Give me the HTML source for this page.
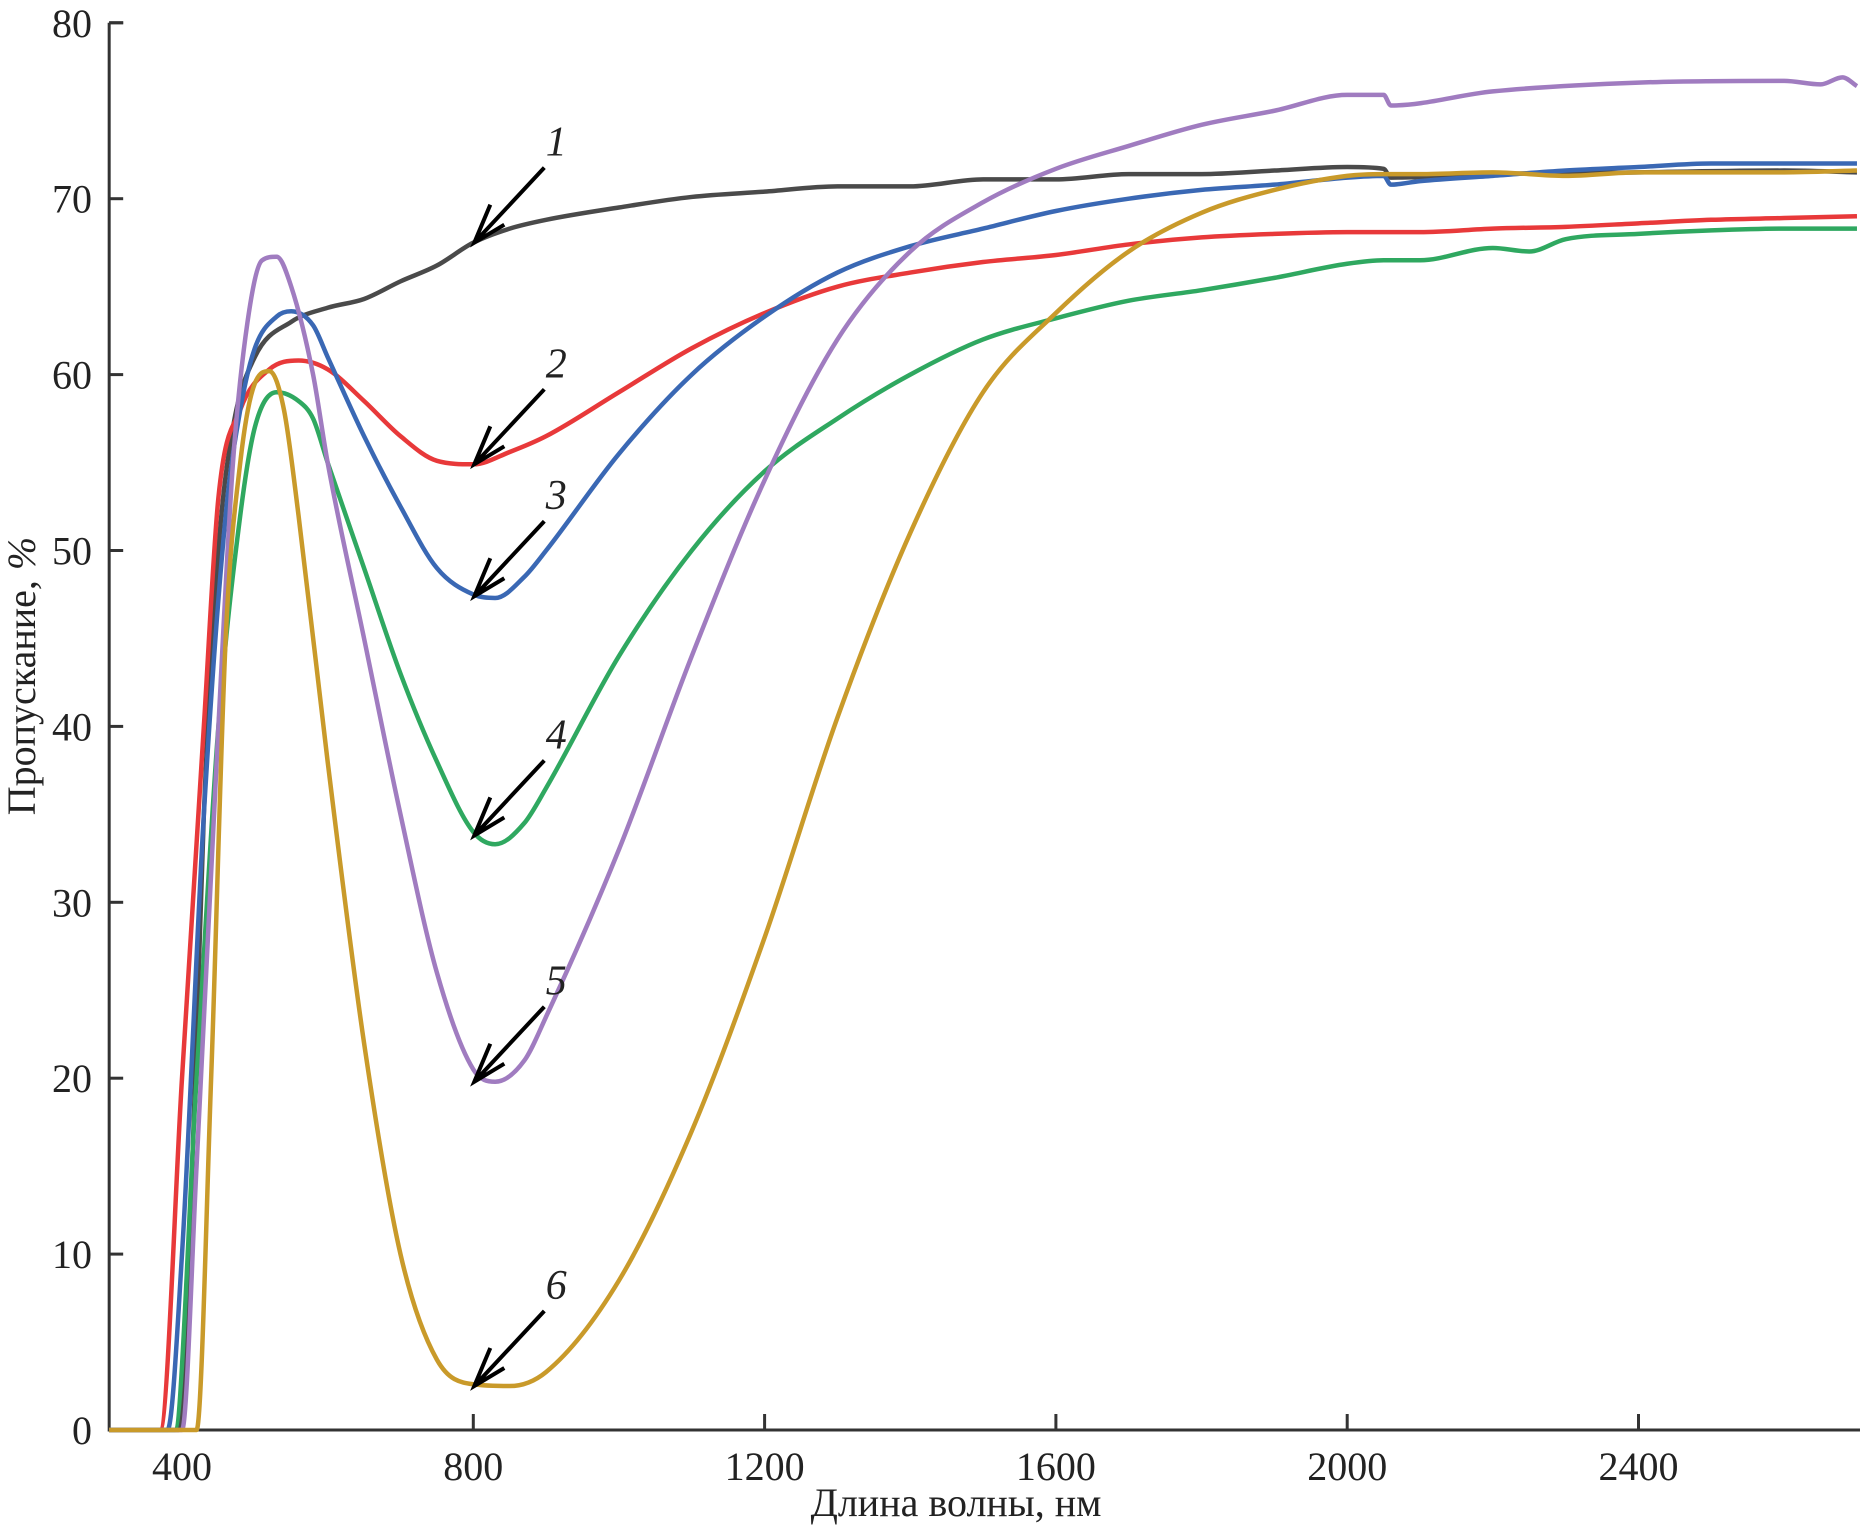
<!DOCTYPE html>
<html><head><meta charset="utf-8"><style>
html,body{margin:0;padding:0;background:#fff;}
svg{display:block;}
text{font-family:"Liberation Serif",serif;fill:#222;}
</style></head><body>
<svg id="chart" width="1860" height="1529" viewBox="0 0 1860 1529" xmlns="http://www.w3.org/2000/svg"></svg>
<script>
const xTicks=[400,800,1200,1600,2000,2400];
const yTicks=[0,10,20,30,40,50,60,70,80];
const s1x=[300,395,410,430,450,470,500,550,600,650,700,750,800,850,900,1000,1100,1200,1300,1400,1500,1600,1700,1800,1900,2000,2050,2060,2200,2400,2600,2700];
const s1y=[0,0,10,35,50,57,61,63,63.8,64.3,65.3,66.2,67.5,68.3,68.8,69.5,70.1,70.4,70.7,70.7,71.1,71.1,71.4,71.4,71.6,71.8,71.7,71.2,71.4,71.5,71.6,71.5];
const s2x=[300,370,400,430,450,480,520,560,600,650,700,750,800,850,900,1000,1100,1200,1300,1400,1500,1600,1700,1800,1900,2000,2100,2200,2300,2400,2500,2600,2700];
const s2y=[0,0,20,40,53,58,60.3,60.8,60.3,58.5,56.5,55.1,54.9,55.6,56.5,59,61.5,63.5,65,65.8,66.4,66.8,67.4,67.8,68,68.1,68.1,68.3,68.4,68.6,68.8,68.9,69];
const s3x=[300,380,400,430,460,480,500,530,550,580,600,650,700,750,800,830,870,900,1000,1100,1200,1300,1400,1500,1600,1700,1800,1900,2000,2050,2060,2100,2200,2300,2400,2500,2600,2700];
const s3y=[0,0,10,35,52,58,61.5,63.3,63.6,62.8,61,56.5,52.5,49,47.5,47.3,48.5,50,55.5,60,63.3,65.8,67.3,68.3,69.3,70,70.5,70.8,71.2,71.3,70.8,71,71.3,71.6,71.8,72,72,72];
const s4x=[300,390,420,450,480,500,530,560,580,600,650,700,750,800,830,870,900,1000,1100,1200,1300,1400,1500,1600,1700,1800,1900,2000,2050,2100,2200,2250,2300,2400,2500,2600,2700];
const s4y=[0,0,20,40,52,57,59,58.5,57.5,55,49,43,38,34,33.3,34.5,36.5,44,50,54.5,57.5,60,62,63.2,64.2,64.8,65.5,66.3,66.5,66.5,67.2,67,67.7,68,68.2,68.3,68.3];
const s5x=[300,400,420,450,470,490,510,530,550,580,600,650,700,750,800,830,870,900,1000,1100,1200,1300,1400,1500,1600,1700,1800,1900,2000,2050,2060,2200,2400,2600,2650,2680,2700];
const s5y=[0,0,15,40,55,63,66.5,66.7,65,60,55,45,35,26,20.5,19.8,21,23.5,33,44,54,62,67,69.8,71.7,73,74.2,75,75.9,75.9,75.3,76.1,76.6,76.7,76.5,76.9,76.4];
const s6x=[300,420,440,460,480,500,520,540,560,600,650,700,750,800,850,900,1000,1100,1200,1300,1400,1500,1600,1700,1800,1900,2000,2050,2100,2200,2300,2400,2600,2700];
const s6y=[0,0,20,45,55,59.5,60.2,58,52,38,22,10,4,2.6,2.5,3.3,8.5,17,28,40.5,51,59,63.5,67,69.2,70.5,71.3,71.4,71.4,71.5,71.3,71.5,71.5,71.6];
const seriesLabels=["1","2","3","4","5","6"];
const arrowTipY=[67.5,54.9,47.4,33.8,19.8,2.5];
const colors=["#4a4a4a","#e8393a","#3a68b4","#2fa860","#a07cc0","#c99a2a"];
const X=v=>182+(v-400)*0.72825;
const Y=v=>1430-v*17.59;
const svg=document.getElementById('chart');
const NS='http://www.w3.org/2000/svg';
function mk(t,a){const e=document.createElementNS(NS,t);for(const k in a)e.setAttribute(k,a[k]);svg.appendChild(e);return e;}
let ax=mk('path',{d:`M${X(300)} ${Y(80)} H${X(300)+14} M${X(300)} ${Y(80)} V${Y(0)} H1860`,stroke:'#333',fill:'none','stroke-width':3});


yTicks.forEach(t=>{
  const l=mk('line',{x1:X(300),x2:X(300)+14,y1:Y(t),y2:Y(t),stroke:'#333','stroke-width':3});
  
  
  const tx=mk('text',{x:92,y:Y(t)+14,'font-size':40,'text-anchor':'end'});tx.textContent=t;
  
  
});
xTicks.forEach(t=>{
  const l=mk('line',{x1:X(t),x2:X(t),y1:Y(0),y2:Y(0)-16,stroke:'#333','stroke-width':3});
  
  
  const tx=mk('text',{x:X(t),y:1480,'font-size':40,'text-anchor':'middle'});tx.textContent=t;
  
  
});
let xl=mk('text',{x:956,y:1516,'font-size':40,'text-anchor':'middle'});xl.textContent='Длина волны, нм';


let yl=mk('text',{x:0,y:0,'font-size':40,'text-anchor':'middle',transform:'translate(35,676) rotate(-90)'});yl.innerHTML='Пропускание, <tspan font-style="italic">%</tspan>';


function path(xs,ys){
  const n=xs.length,px=xs.map(X),py=ys.map(Y);
  const d=[],m=new Array(n);
  for(let i=0;i<n-1;i++)d.push((py[i+1]-py[i])/(px[i+1]-px[i]));
  m[0]=d[0];m[n-1]=d[n-2];
  for(let i=1;i<n-1;i++){m[i]=(d[i-1]*d[i]<=0)?0:(d[i-1]+d[i])/2;}
  for(let i=0;i<n-1;i++){
    if(d[i]===0){m[i]=0;m[i+1]=0;continue;}
    const a=m[i]/d[i],b=m[i+1]/d[i],s=a*a+b*b;
    if(s>9){const t=3/Math.sqrt(s);m[i]=t*a*d[i];m[i+1]=t*b*d[i];}
  }
  let p=`M${px[0]} ${py[0]}`;
  for(let i=0;i<n-1;i++){
    const h=(px[i+1]-px[i])/3;
    p+=` C${px[i]+h} ${py[i]+m[i]*h} ${px[i+1]-h} ${py[i+1]-m[i+1]*h} ${px[i+1]} ${py[i+1]}`;
  }
  return p;
}
const SX=[s1x,s2x,s3x,s4x,s5x,s6x],SY=[s1y,s2y,s3y,s4y,s5y,s6y];
SX.forEach((xs,i)=>{
  const e=mk('path',{d:path(xs,SY[i]),stroke:colors[i],fill:'none','stroke-width':4.5,'stroke-linejoin':'round'});
  
  
});
arrowTipY.forEach((v,i)=>{
  const tx=X(800)+1,ty=Y(v);
  const sx=tx+70,sy=ty-75;
  const a=mk('path',{d:`M${sx} ${sy} L${tx} ${ty} M${tx+16} ${ty-38} L${tx} ${ty} L${tx+30} ${ty-18}`,stroke:'#000',fill:'none','stroke-width':4});
  
  
  const t=mk('text',{x:sx+12,y:sy-12,'font-size':42,'font-style':'italic','text-anchor':'middle'});t.textContent=seriesLabels[i];
  
  
});
</script>
</body></html>
